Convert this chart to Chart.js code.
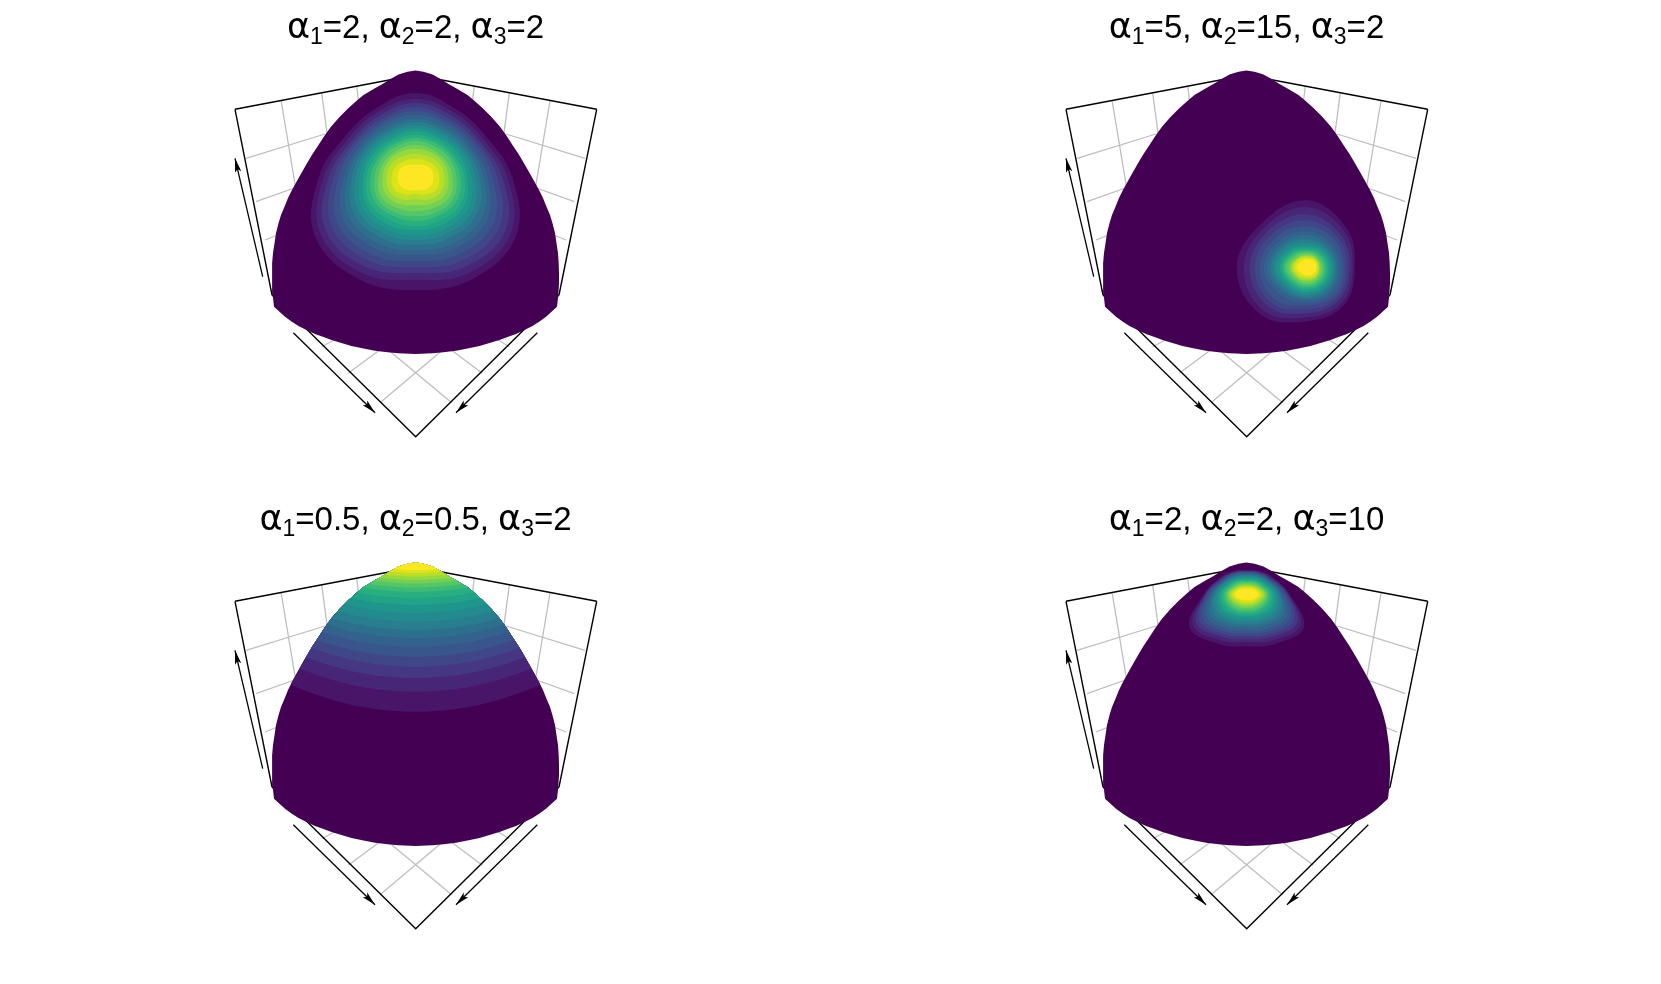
<!DOCTYPE html>
<html>
<head>
<meta charset="utf-8">
<title>Dirichlet densities</title>
<script src="https://cdn.jsdelivr.net/npm/chart.js@4/dist/chart.umd.min.js"></script>
<style>
  html, body { margin: 0; background: #fff; }
  canvas { position: absolute; }
</style>
</head>
<body>
<script>
const alpha1 = ["2", "5", "0.5", "2"];
const alpha2 = ["2", "15", "0.5", "2"];
const alpha3 = ["2", "2", "2", "10"];

// viridis steps used by the shaded bands, darkest is the sphere itself
const levelColors = [
  "#440154", "#481568", "#482677", "#453781", "#404788", "#39568c", "#33638d",
  "#2d708e", "#287d8e", "#238a8d", "#1f968b", "#20a387", "#29af7f", "#3cbb75",
  "#55c667", "#73d055", "#95d840", "#b8de29", "#dce319", "#fde725"
];

// sphere outline, half width against height
const outlineDx = [0, 8, 17, 25, 33, 41, 52, 58, 67, 76, 84.5, 90.5, 97, 103, 108.5, 113.5, 118, 123.5, 127.5, 131, 134.5, 137, 139.5, 141, 142.5, 143.2, 143.5, 143.5, 142.8, 141.5];
const outlineY = [70.5, 71.8, 74.5, 79, 84, 88.5, 95, 100, 108, 117, 126.7, 135, 145, 154, 163.3, 172, 180, 190, 198, 206.7, 215, 223.3, 233, 243.3, 253, 263.3, 273, 283.3, 295, 306.7];
const rimDx = [130.5, 124, 117, 109, 100.5, 92, 84, 74, 64, 52, 40.5, 28, 17, 0];
const rimY = [316.7, 321.5, 326, 330, 334, 337, 340, 343, 346, 348.5, 350.7, 352.3, 353.3, 354];

// box edges
const boxLines = [
  [[235, 109.3], [415.5, 75], [596.7, 109.3]],
  [[235, 109.3], [272, 295]],
  [[596.7, 109.3], [559, 295]],
  [[272, 295], [415.7, 436.7], [559, 295]]
];

// grey grid on the walls and the floor
const gridLines = [
  [[281, 100], [301, 220]], [[321.7, 93], [332, 170]], [[356.7, 86], [359, 105]],
  [[550, 101], [530, 220]], [[509.3, 93.3], [499, 170]], [[474.3, 86], [472, 105]],
  [[246, 158.3], [325, 134]], [[256, 201.7], [300, 186]], [[265, 240], [285, 232]],
  [[585, 158.3], [506, 134]], [[574.3, 201.7], [531, 186]], [[566, 240], [546, 232]],
  [[380, 402.7], [445, 348]], [[348.3, 373.3], [385, 346]], [[321.7, 346.7], [336, 339]],
  [[451.7, 402.7], [386, 348]], [[482.3, 373.3], [446, 346]], [[509.3, 346.7], [495, 338]]
];

// axis arrows, tail then tip
const arrowLines = [
  [[262.7, 276.7], [235, 158.3]],
  [[293.3, 332.7], [375, 412.7]],
  [[537.3, 332.7], [456, 412.7]]
];

// peak positions of the three blob panels
const peakTop = [415.5, 178];
const peakRight = [475.7, 267.3];
const peakLower = [415.7, 102.3];

// contour reach from the peak every 30 degrees, N round to S and mirrored, level 1 to 19
const contoursTop = [
  [85, 80, 82, 97, 116, 116, 112], [79, 76, 78, 92, 110, 109, 102], [75, 72, 74, 87, 104, 102, 95],
  [71, 68, 71, 82, 97, 95, 89], [67, 65, 68, 77, 90, 88, 83], [63, 62, 64, 72, 83, 81, 77],
  [59, 58, 61, 68, 77, 75, 72], [56, 55, 58, 64, 71, 69, 67], [53, 52, 55, 60, 66, 64, 62],
  [50, 49, 52, 56, 61, 59, 57], [47, 46, 49, 52, 56, 54, 52], [43, 43, 45, 49, 52, 49, 48],
  [40, 40, 42, 45, 47, 44, 43], [37, 37, 39, 41, 43, 40, 38], [33, 33, 35, 37, 39, 35, 33],
  [29, 30, 32, 33, 34, 30, 27], [24, 25, 28, 29, 29, 25, 21], [19, 20, 23, 24, 24, 19, 16],
  [13, 15, 18, 18, 17, 14, 12]
];

// full turn every 45 degrees: N, NE, E, SE, S, SW, W, NW
const contoursRight = [
  [67, 56, 48, 53, 54, 66, 70, 63], [60, 52, 46, 50, 50, 61, 63, 58],
  [53, 47, 43, 46, 46, 55, 57, 53], [47, 43, 40, 43, 42, 50, 52, 48],
  [41, 39, 37, 40, 38, 45, 47, 43], [36, 34, 34, 36, 35, 38, 43, 38],
  [32, 31, 31, 33, 32, 34, 39, 34], [28, 28, 29, 30, 30, 31, 36, 31],
  [25, 26, 27, 28, 28, 28, 33, 28], [22, 24, 25, 26, 26, 26, 30, 25],
  [20, 22, 23, 24, 24, 24, 27, 23], [18, 20, 21, 22, 22, 22, 25, 21],
  [16.5, 18, 19, 20, 20, 20, 23, 19], [15, 16, 17, 18, 18, 18, 21, 17],
  [13.5, 14, 15, 16, 16, 16, 18, 15], [12, 13, 13, 14, 13.5, 14, 16, 13],
  [11, 12, 12.5, 13, 12, 13, 14.5, 12], [9.5, 11, 11, 11.5, 10, 11, 12.5, 11],
  [8, 9, 10, 9, 8, 8, 10, 8]
];

const contoursLower = [
  [24, 27, 32, 43, 66, 57, 52], [23.5, 26, 31, 42, 62, 53, 48], [23, 25.5, 30, 41, 58, 49, 45],
  [22.5, 25, 29, 40, 54, 46, 42], [22, 24, 28, 38, 50, 43, 39], [21, 23, 27, 36, 46, 40, 36],
  [20, 22, 26, 34, 42, 36, 33], [19, 21, 25, 33, 38, 33, 30], [18, 20, 24, 31, 34, 30, 27],
  [17, 19, 22, 29, 31, 27, 24], [15.5, 17.5, 21, 27, 28, 24, 22], [14.5, 16, 20, 25, 25, 22, 20],
  [13, 15, 18, 23, 22, 19.5, 18], [12, 13.5, 16.5, 21, 20, 17.5, 16], [11, 12, 15, 19.5, 17.5, 15, 14],
  [9.5, 10.5, 13.5, 18, 15.5, 13, 12], [8, 9.5, 12, 16.5, 13.5, 11, 10], [6.5, 8, 10.5, 14.5, 11, 9, 8],
  [5, 6.5, 9, 12, 9, 6.5, 5.5]
];

// band edges of the lower left panel, height on the centre line for level 1 to 19
const bandEdgeY = [219.7, 199.7, 186, 174.7, 164.7, 154.7, 146, 138, 129.7, 121, 113, 106, 100, 95.5, 91.5, 88, 84.5, 81, 78];
// how far a band edge rises towards the sides
const bandDx = [0, 30, 60, 90, 120, 160];
const bandRise = [0, 1.5, 6, 14, 25, 44];

const PANEL_W = 831;
const PANEL_H = 492;
const TITLE_H = 50;
const TITLE_BASELINE = 38;
const CENTER_X = 415.5;

function toXY(pairs) {
  return pairs.map(p => ({ x: p[0], y: p[1] }));
}

function outlinePoints() {
  const pts = [];
  for (let i = outlineDx.length - 1; i >= 0; i--) pts.push({ x: CENTER_X - outlineDx[i], y: outlineY[i] });
  for (let i = 1; i < outlineDx.length; i++) pts.push({ x: CENTER_X + outlineDx[i], y: outlineY[i] });
  for (let i = 0; i < rimDx.length; i++) pts.push({ x: CENTER_X + rimDx[i], y: rimY[i] });
  for (let i = rimDx.length - 2; i >= 0; i--) pts.push({ x: CENTER_X - rimDx[i], y: rimY[i] });
  pts.push({ x: CENTER_X - outlineDx[outlineDx.length - 1], y: outlineY[outlineY.length - 1] });
  return pts;
}

function contourPoints(peak, row) {
  // seven values are a half turn, the other half is the mirror image
  const r = row.length === 7 ? row.concat(row.slice(1, 6).reverse()) : row;
  const n = r.length;
  const pts = [];
  // start one ray early and run past the start so the closed curve has no kink
  for (let k = -1; k <= n + 1; k++) {
    const i = (k + n) % n;
    const a = (i * 2 * Math.PI) / n;
    pts.push({ x: peak[0] + Math.sin(a) * r[i], y: peak[1] - Math.cos(a) * r[i] });
  }
  return pts;
}

function bandPoints(edgeY) {
  const pts = [];
  for (let i = bandDx.length - 1; i > 0; i--) pts.push({ x: CENTER_X - bandDx[i], y: edgeY - bandRise[i] });
  for (let i = 0; i < bandDx.length; i++) pts.push({ x: CENTER_X + bandDx[i], y: edgeY - bandRise[i] });
  return pts;
}

function arrowHead(tail, tip) {
  const dx = tail[0] - tip[0];
  const dy = tail[1] - tip[1];
  const len = Math.hypot(dx, dy);
  const ux = dx / len, uy = dy / len;
  return [
    { x: tip[0], y: tip[1] },
    { x: tip[0] + ux * 14 - uy * 3.2, y: tip[1] + uy * 14 + ux * 3.2 },
    { x: tip[0] + ux * 11, y: tip[1] + uy * 11 },
    { x: tip[0] + ux * 14 + uy * 3.2, y: tip[1] + uy * 14 - ux * 3.2 },
    { x: tip[0], y: tip[1] }
  ];
}

function lineSet(points, color, width) {
  return { data: points, borderColor: color, borderWidth: width, pointRadius: 0, tension: 0, fill: false };
}

function shapeSet(points, color, tension) {
  return { data: points, backgroundColor: color, borderWidth: 0, borderColor: color, pointRadius: 0, tension: tension, fill: "shape" };
}

// datasets are painted last to first, so the top layer goes first
function buildDatasets(panel) {
  const layers = [];
  if (panel === 0) contoursTop.forEach((row, i) => layers.push(shapeSet(contourPoints(peakTop, row), levelColors[i + 1], 0.4)));
  if (panel === 1) contoursRight.forEach((row, i) => layers.push(shapeSet(contourPoints(peakRight, row), levelColors[i + 1], 0.4)));
  if (panel === 3) contoursLower.forEach((row, i) => layers.push(shapeSet(contourPoints(peakLower, row), levelColors[i + 1], 0.4)));
  if (panel === 2) {
    bandEdgeY.forEach((y, i) => {
      layers.push({ data: bandPoints(y), backgroundColor: levelColors[i + 1], borderWidth: 0, pointRadius: 0, tension: 0.3, fill: "end" });
    });
  }
  layers.reverse();
  const outlineIndex = layers.length;
  layers.push(shapeSet(outlinePoints(), levelColors[0], 0));
  arrowLines.forEach(a => layers.push(shapeSet(arrowHead(a[0], a[1]), "#000000", 0)));
  arrowLines.forEach(a => layers.push(lineSet(toXY(a), "#000000", 1.3)));
  boxLines.forEach(l => layers.push(lineSet(toXY(l), "#000000", 1.4)));
  gridLines.forEach(l => layers.push(lineSet(toXY(l), "#bebebe", 1.3)));
  return { layers, outlineIndex };
}

// once the sphere is painted, keep the colour bands inside its outline
function outlineClip(outlineIndex) {
  return {
    id: "outlineClip",
    afterDatasetDraw(chart, args) {
      if (args.index !== outlineIndex) return;
      const ctx = chart.ctx;
      const pts = chart.getDatasetMeta(outlineIndex).data;
      ctx.save();
      ctx.beginPath();
      pts.forEach((p, i) => (i ? ctx.lineTo(p.x, p.y) : ctx.moveTo(p.x, p.y)));
      ctx.closePath();
      ctx.clip();
    },
    afterDatasetsDraw(chart) {
      chart.ctx.restore();
    }
  };
}

// the title needs real subscripts, which the built in title can't do
const fontMain = "33px 'Liberation Sans'";
const fontAlpha = "35px 'DejaVu Sans'";
const fontSub = "23px 'Liberation Sans'";

function titleRuns(panel) {
  const runs = [];
  [alpha1[panel], alpha2[panel], alpha3[panel]].forEach((value, i) => {
    runs.push({ text: "α", font: fontAlpha, drop: 0 });
    runs.push({ text: String(i + 1), font: fontSub, drop: 6 });
    runs.push({ text: "=" + value + (i < 2 ? ", " : ""), font: fontMain, drop: 0 });
  });
  return runs;
}

function panelTitle(panel) {
  return {
    id: "panelTitle",
    afterDraw(chart) {
      const ctx = chart.ctx;
      const runs = titleRuns(panel);
      ctx.save();
      ctx.fillStyle = "#000000";
      ctx.textBaseline = "alphabetic";
      let total = 0;
      runs.forEach(r => {
        ctx.font = r.font;
        total += ctx.measureText(r.text).width;
      });
      let x = chart.width / 2 - total / 2;
      runs.forEach(r => {
        ctx.font = r.font;
        ctx.fillText(r.text, x, TITLE_BASELINE + r.drop);
        x += ctx.measureText(r.text).width;
      });
      ctx.restore();
    }
  };
}

alpha1.forEach((_, panel) => {
  const canvas = document.createElement("canvas");
  canvas.width = PANEL_W;
  canvas.height = PANEL_H;
  canvas.style.left = (panel % 2) * PANEL_W + "px";
  canvas.style.top = Math.floor(panel / 2) * PANEL_H + "px";
  document.body.appendChild(canvas);

  const { layers, outlineIndex } = buildDatasets(panel);
  new Chart(canvas.getContext("2d"), {
    type: "scatter",
    data: { datasets: layers.map(d => ({ ...d, showLine: true })) },
    options: {
      responsive: false,
      animation: false,
      layout: { padding: { top: TITLE_H } },
      scales: {
        x: { display: false, min: 0, max: PANEL_W },
        y: { display: false, reverse: true, min: TITLE_H, max: PANEL_H }
      },
      plugins: {
        legend: { display: false },
        tooltip: { enabled: false }
      }
    },
    plugins: [outlineClip(outlineIndex), panelTitle(panel)]
  });
});
</script>
</body>
</html>
